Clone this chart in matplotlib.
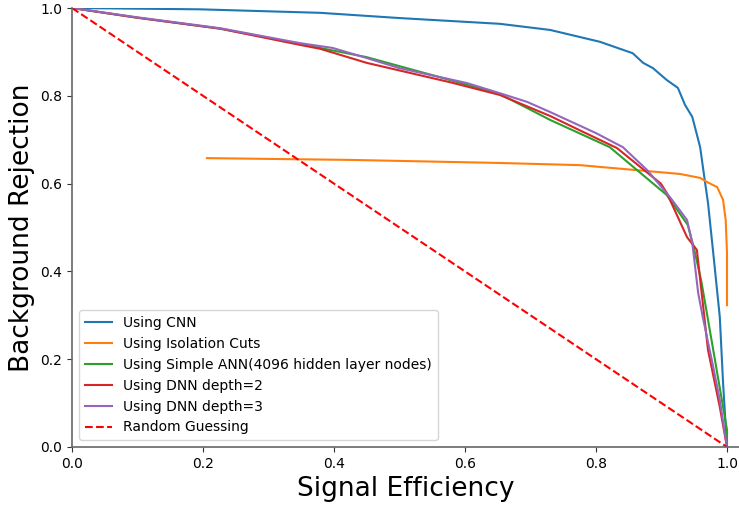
import numpy as np
import matplotlib
matplotlib.use("Agg")
import matplotlib.pyplot as plt

# ROC-style curves (signal efficiency, background rejection)
cnn_x = [0.0, 0.195, 0.379, 0.501, 0.653, 0.730, 0.806, 0.856, 0.872, 0.887, 0.908,
         0.925, 0.936, 0.947, 0.959, 0.966, 0.971, 0.979, 0.989, 0.994, 0.999, 1.0]
cnn_y = [1.0, 0.997, 0.989, 0.977, 0.964, 0.950, 0.923, 0.897, 0.875, 0.863, 0.836,
         0.818, 0.779, 0.752, 0.683, 0.608, 0.556, 0.442, 0.296, 0.146, 0.023, 0.0]

iso_x = [0.206, 0.424, 0.653, 0.776, 0.806, 0.928, 0.959, 0.969, 0.985, 0.994, 0.998, 1.0, 1.0]
iso_y = [0.658, 0.654, 0.647, 0.642, 0.638, 0.622, 0.613, 0.604, 0.592, 0.563, 0.517, 0.442, 0.323]

ann_x = [0.0, 0.099, 0.226, 0.348, 0.45, 0.577, 0.653, 0.695, 0.73, 0.821, 0.908,
         0.940, 0.950, 0.961, 0.979, 1.0, 1.0]
ann_y = [1.0, 0.978, 0.953, 0.918, 0.888, 0.836, 0.804, 0.772, 0.745, 0.683, 0.574,
         0.506, 0.450, 0.376, 0.221, 0.039, 0.0]

dnn2_x = [0.0, 0.099, 0.226, 0.348, 0.379, 0.45, 0.577, 0.653, 0.73, 0.78, 0.832,
          0.899, 0.908, 0.939, 0.954, 0.971, 0.989, 1.0]
dnn2_y = [1.0, 0.978, 0.953, 0.916, 0.907, 0.875, 0.831, 0.802, 0.754, 0.718, 0.681,
          0.600, 0.579, 0.478, 0.449, 0.221, 0.091, 0.0]

dnn3_x = [0.0, 0.099, 0.226, 0.348, 0.398, 0.45, 0.50, 0.603, 0.653, 0.695, 0.73,
          0.80, 0.841, 0.878, 0.913, 0.939, 0.947, 0.956, 0.963, 0.979, 0.989, 1.0]
dnn3_y = [1.0, 0.979, 0.954, 0.920, 0.909, 0.886, 0.863, 0.829, 0.806, 0.786, 0.763,
          0.715, 0.683, 0.631, 0.569, 0.517, 0.465, 0.351, 0.296, 0.182, 0.107, 0.0]

rand_x = [0.0, 1.0]
rand_y = [1.0, 0.0]

fig = plt.figure(figsize=(7.39, 5.08), dpi=100)
ax = fig.add_axes([72 / 739, 61 / 508, 667 / 739, 439 / 508])

ax.plot(cnn_x, cnn_y, label="Using CNN")
ax.plot(iso_x, iso_y, label="Using Isolation Cuts")
ax.plot(ann_x, ann_y, label="Using Simple ANN(4096 hidden layer nodes)")
ax.plot(dnn2_x, dnn2_y, label="Using DNN depth=2")
ax.plot(dnn3_x, dnn3_y, label="Using DNN depth=3")
ax.plot(rand_x, rand_y, "r--", label="Random Guessing")

ax.set_xlim(0, 1.0 + 12 / 655)
ax.set_ylim(0, 1.0)
ax.set_xticks([0.0, 0.2, 0.4, 0.6, 0.8, 1.0])
ax.set_yticks([0.0, 0.2, 0.4, 0.6, 0.8, 1.0])
ax.set_xlabel("Signal Efficiency", fontsize=19)
ax.set_ylabel("Background Rejection", fontsize=19)

for s in ["top", "right"]:
    ax.spines[s].set_visible(False)
for s in ["left", "bottom"]:
    ax.spines[s].set_color("0.4")
    ax.spines[s].set_linewidth(1.2)
ax.tick_params(colors="0.2", labelcolor="black")

ax.legend(loc="lower left", fontsize=10)

fig.savefig("out.png", dpi=100)
